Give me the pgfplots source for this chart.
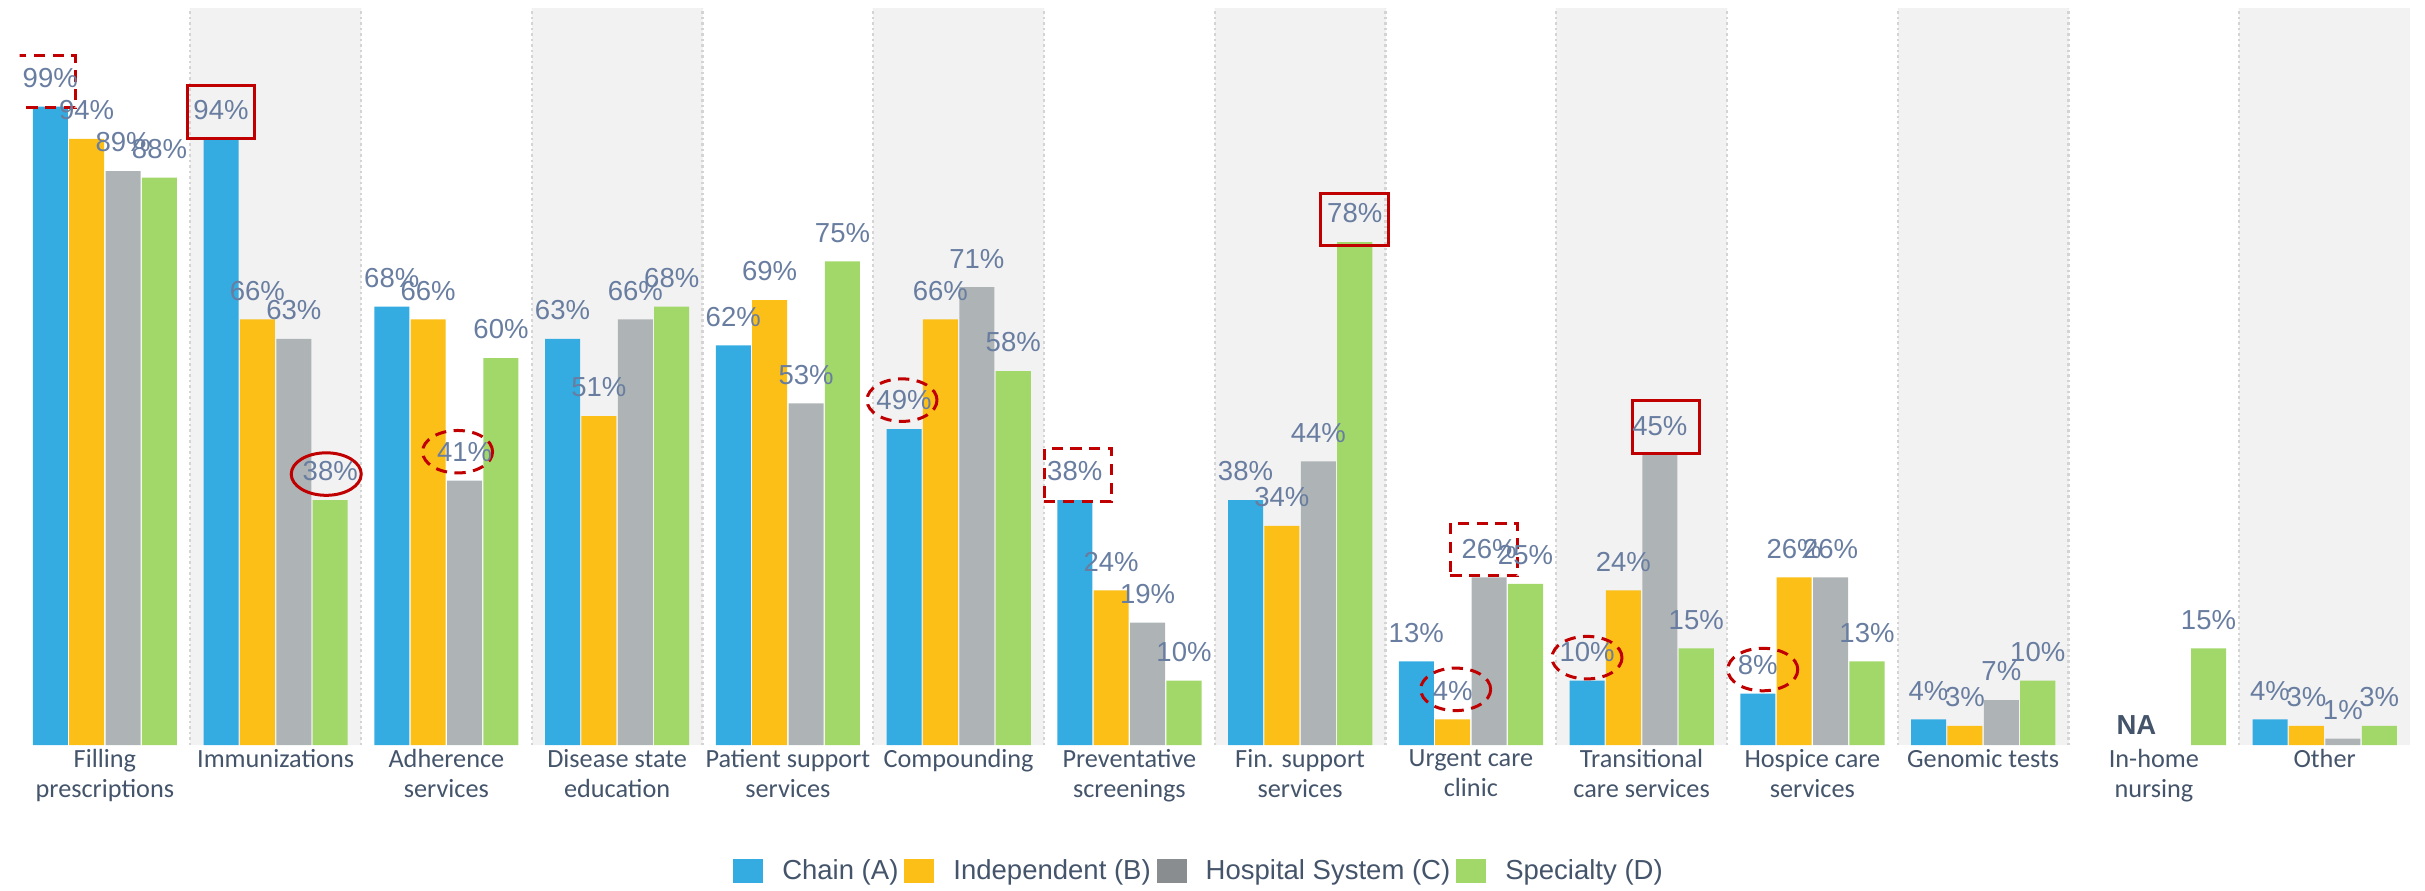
\documentclass[border=0pt]{standalone}
\usepackage{fontspec}
\setmainfont{Liberation Sans}
\newfontfamily\catfont{Carlito}
\usepackage{pgfplots}
\usepackage{pgfplotstable}
\pgfplotsset{compat=1.18}
\usetikzlibrary{shapes.geometric}

\definecolor{chainc}{RGB}{52,172,226}
\definecolor{indepc}{RGB}{251,191,23}
\definecolor{hospc}{RGB}{174,180,181}
\definecolor{hospleg}{RGB}{138,141,144}
\definecolor{specc}{RGB}{162,216,106}
\definecolor{bandc}{RGB}{242,242,242}
\definecolor{sepc}{RGB}{212,212,212}
\definecolor{valc}{RGB}{104,125,160}
\definecolor{textc}{RGB}{68,84,106}
\definecolor{annored}{RGB}{192,0,0}

% share of pharmacies offering each service, by pharmacy type
\pgfplotstableread{
x  A   B   C   D
0  99  94  89  88
1  94  66  63  38
2  68  66  41  60
3  63  51  66  68
4  62  69  53  75
5  49  66  71  58
6  38  24  19  10
7  38  34  44  78
8  13  4   26  25
9  10  24  45  15
10 8   26  26  13
11 4   3   7   10
12 nan nan nan 15
13 4   3   1   3
}\services

\tikzset{
  annbox/.style={draw=annored, line width=1.2pt, minimum width=27pt, minimum height=21pt, inner sep=0pt},
  annell/.style={ellipse, draw=annored, line width=1.2pt, minimum width=28pt, minimum height=17pt, inner sep=0pt},
  anndash/.style={dash pattern=on 4.5pt off 3pt},
}

\begin{document}
\begin{tikzpicture}
\begin{axis}[
    name=ax,
    width=956pt, height=294.8pt, scale only axis,
    xmin=-0.5, xmax=13.5, ymin=0, ymax=114.3,
    ybar=0.56pt, bar width=14pt,
    axis line style={draw=none},
    major tick length=0pt,
    ytick=\empty,
    xtick={0,...,13},
    xticklabels={{Filling\\prescriptions}, Immunizations, {Adherence\\services},
      {Disease state\\education}, {Patient support\\services}, Compounding,
      {Preventative\\screenings}, {Fin. support\\services}, {Urgent care\\clinic},
      {Transitional\\care services}, {Hospice care\\services}, Genomic tests,
      {In-home\\nursing}, Other},
    xticklabel style={font=\catfont\fontsize{10.5}{12}\selectfont, text=textc,
      align=center, anchor=north, inner sep=0pt, yshift=-1.5pt},
    /pgf/number format/assume math mode=true,
    nodes near coords={\pgfmathprintnumber{\pgfplotspointmeta}\%},
    every node near coord/.append style={font=\fontsize{11}{13}\selectfont,
      text=valc, inner sep=0pt, yshift=7.4pt},
    legend image code/.code={\fill[#1] (0pt,-4.9pt) rectangle (12pt,4.9pt);},
    legend columns=-1,
    legend style={at={(0.5,0)}, anchor=center, xshift=-6.7pt, yshift=-50.4pt,
      draw=none, fill=none, inner sep=0pt,
      font=\fontsize{11}{13}\selectfont, text=textc,
      nodes={inner sep=0pt},
      /tikz/every odd column/.append style={column sep=7.6pt},
      /tikz/every even column/.append style={column sep=2.4pt}},
]

% shaded bands behind every second category
\pgfplotsinvokeforeach{0.5,2.5,4.5,6.5,8.5,10.5,12.5}{
  \fill[bandc] (axis cs:#1,0) rectangle ([xshift=68.29pt]axis cs:#1,114.3);
}
\pgfplotsinvokeforeach{0.5,1.5,2.5,3.5,4.5,5.5,6.5,7.5,8.5,9.5,10.5,11.5,12.5}{
  \draw[sepc, line width=0.9pt, dash pattern=on 0.9pt off 1.3pt]
    (axis cs:#1,0) -- (axis cs:#1,114.3);
}

\addplot[fill=chainc, draw=none] table[x=x, y=A] {\services};
\addlegendentry{Chain (A)}
\addplot[fill=indepc, draw=none] table[x=x, y=B] {\services};
\addlegendentry{Independent (B)}
\addplot[fill=hospc, draw=none, legend image post style={fill=hospleg}] table[x=x, y=C] {\services};
\addlegendentry{Hospital System (C)}
\addplot[fill=specc, draw=none] table[x=x, y=D] {\services};
\addlegendentry{Specialty (D)}

\node[font=\bfseries\fontsize{11}{13}\selectfont, text=textc, anchor=base, inner sep=0pt]
  at ([xshift=-7pt, yshift=4.4pt]axis cs:12,0) {NA};

% red call-outs
\node[annbox, anndash] at ([xshift=-3.6pt, yshift=10pt]axis cs:-0.3198,99) {};
\node[annbox] at ([yshift=10.8pt]axis cs:0.6802,94) {};
\node[annell] at ([xshift=-1.6pt, yshift=10.4pt]axis cs:1.3198,38) {};
\node[annell, anndash] at ([xshift=-2.8pt, yshift=11.6pt]axis cs:2.1066,41) {};
\node[annell, anndash] at ([xshift=-0.8pt, yshift=11.6pt]axis cs:4.6802,49) {};
\node[annbox, anndash] at ([xshift=1.2pt, yshift=10pt]axis cs:5.6802,38) {};
\node[annbox] at ([yshift=9pt]axis cs:7.3198,78) {};
\node[annbox, anndash] at ([xshift=-2pt, yshift=11.2pt]axis cs:8.1066,26) {};
\node[annell, anndash] at ([xshift=1.2pt, yshift=12pt]axis cs:7.8934,4) {};
\node[annbox] at ([xshift=2.4pt, yshift=11.2pt]axis cs:9.1066,45) {};
\node[annell, anndash] at ([yshift=9.2pt]axis cs:8.6802,10) {};
\node[annell, anndash] at ([xshift=2pt, yshift=9.6pt]axis cs:9.6802,8) {};

\end{axis}
\pgfresetboundingbox
\path ([xshift=-7.8pt, yshift=-58pt]ax.south west) rectangle ([xshift=6pt, yshift=3.2pt]ax.north east);
\end{tikzpicture}
\end{document}
